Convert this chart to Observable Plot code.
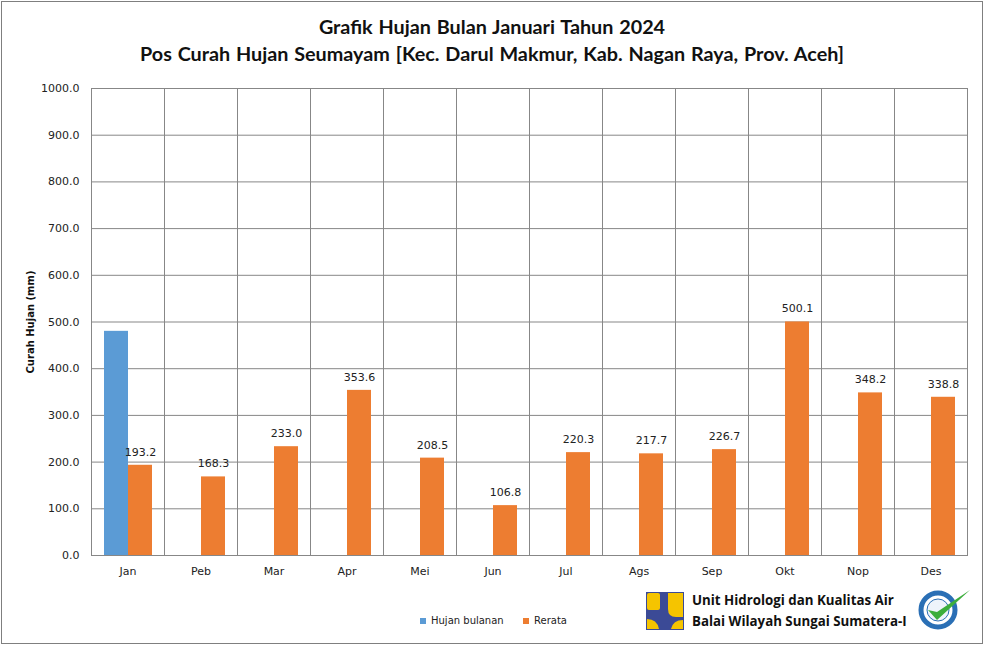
<!DOCTYPE html>
<html>
<head>
<meta charset="utf-8">
<script src="https://cdn.jsdelivr.net/npm/d3@7"></script>
<script src="https://cdn.jsdelivr.net/npm/@observablehq/plot@0.6"></script>
<style>
  html, body { margin: 0; padding: 0; background: #fff; }
  #wrap { position: relative; width: 984px; height: 645px; overflow: hidden; font-family: "DejaVu Sans", sans-serif; }
  #border { position: absolute; left: 1px; top: 1px; width: 980px; height: 641px; border: 1px solid #7f7f7f; }
  .title { position: absolute; left: 0; width: 984px; text-align: center; font-family: Lato, sans-serif; font-weight: bold; font-size: 19.8px; color: #111; word-spacing: 1px; }
  #ylabel { position: absolute; left: 30px; top: 322px; transform: translate(-50%, -50%) rotate(-90deg); font-weight: bold; font-size: 10px; white-space: nowrap; color: #111; }
  .leg { position: absolute; top: 615px; font-size: 10px; color: #222; white-space: nowrap; }
  .sw { display: inline-block; width: 6px; height: 6px; margin-right: 5px; vertical-align: 0px; }
  .org { position: absolute; left: 692px; font-family: "Open Sans", sans-serif; font-weight: bold; font-size: 13.3px; color: #111; white-space: nowrap; }
  #chart { position: absolute; left: 0; top: 0; }
</style>
</head>
<body>
<div id="wrap">
  <div id="chart"></div>
  <div id="border"></div>
  <div class="title" style="top:14px">Grafik Hujan Bulan Januari Tahun 2024</div>
  <div class="title" style="top:41px">Pos Curah Hujan Seumayam [Kec. Darul Makmur, Kab. Nagan Raya, Prov. Aceh]</div>
  <div id="ylabel">Curah Hujan (mm)</div>
  <div class="leg" style="left:420px"><span class="sw" style="background:#5B9BD5"></span>Hujan bulanan</div>
  <div class="leg" style="left:523px"><span class="sw" style="background:#ED7D31"></span>Rerata</div>
  <svg style="position:absolute;left:646px;top:592px" width="38" height="38" viewBox="0 0 38 38">
    <rect x="0" y="0" width="38" height="38" fill="#3b4a96"/>
    <rect x="1" y="1" width="13" height="17" rx="2" fill="#f5c400"/>
    <path d="M22 1 L37 1 L37 25 L30 25 Q22 25 22 17 Z" fill="#f5c400"/>
    <path d="M1 37 L1 27 Q11 27 13 37 Z" fill="#f5c400"/>
    <path d="M25 37 Q27 28 37 28 L37 37 Z" fill="#f5c400"/>
  </svg>
  <div class="org" style="top:591px">Unit Hidrologi dan Kualitas Air</div>
  <div class="org" style="top:612px">Balai Wilayah Sungai Sumatera-I</div>
  <svg style="position:absolute;left:918px;top:588px" width="54" height="48" viewBox="0 0 54 48">
    <circle cx="20" cy="22" r="17" fill="#fff" stroke="#2a6fb5" stroke-width="5"/>
    <circle cx="20" cy="22" r="11" fill="#eef4fb" stroke="#2a6fb5" stroke-width="1"/>
    <path d="M10 22 L19 32 L52 2 L19 24 Z" fill="#3cae3c"/>
  </svg>
</div>
<script>
const months = ["Jan","Peb","Mar","Apr","Mei","Jun","Jul","Ags","Sep","Okt","Nop","Des"];
const hujanBulanan = [480.0, null, null, null, null, null, null, null, null, null, null, null];
const rerata = [193.2, 168.3, 233.0, 353.6, 208.5, 106.8, 220.3, 217.7, 226.7, 500.1, 348.2, 338.8];
const seriesNames = ["Hujan bulanan", "Rerata"];
const seriesColors = ["#5B9BD5", "#ED7D31"];
const yTicks = [0,100,200,300,400,500,600,700,800,900,1000];

const rows = [];
months.forEach((m, i) => {
  if (hujanBulanan[i] != null) rows.push({month: m, series: seriesNames[0], value: hujanBulanan[i]});
  rows.push({month: m, series: seriesNames[1], value: rerata[i]});
});
const rerataRows = rows.filter(d => d.series === "Rerata");

const chart = Plot.plot({
  width: 984,
  height: 645,
  marginTop: 88,
  marginBottom: 90,
  marginLeft: 90,
  marginRight: 17,
  style: {fontFamily: "DejaVu Sans, sans-serif", fontSize: "11px", color: "#222", background: "transparent"},
  fx: {domain: months, padding: 0},
  x: {domain: seriesNames, paddingInner: 0, paddingOuter: 0.5, axis: null},
  y: {domain: [0, 1000]},
  color: {domain: seriesNames, range: seriesColors},
  marks: [
    Plot.gridY(yTicks, {stroke: "#878787", strokeOpacity: 1}),
    Plot.frame({stroke: "#878787"}),
    Plot.barY(rows, {fx: "month", x: "series", y: "value", fill: "series"}),
    Plot.text(rerataRows, {fx: "month", x: "series", y: "value", text: d => d.value.toFixed(1), dy: -13, fill: "#222", fontSize: 11}),
    Plot.axisY({ticks: yTicks, tickFormat: d3.format(".1f"), tickSize: 0, tickPadding: 12, label: null, fontSize: 11}),
    Plot.axisFx({anchor: "bottom", tickSize: 0, tickPadding: 12, label: null, fontSize: 11})
  ]
});
document.getElementById("chart").appendChild(chart);
</script>
</body>
</html>
